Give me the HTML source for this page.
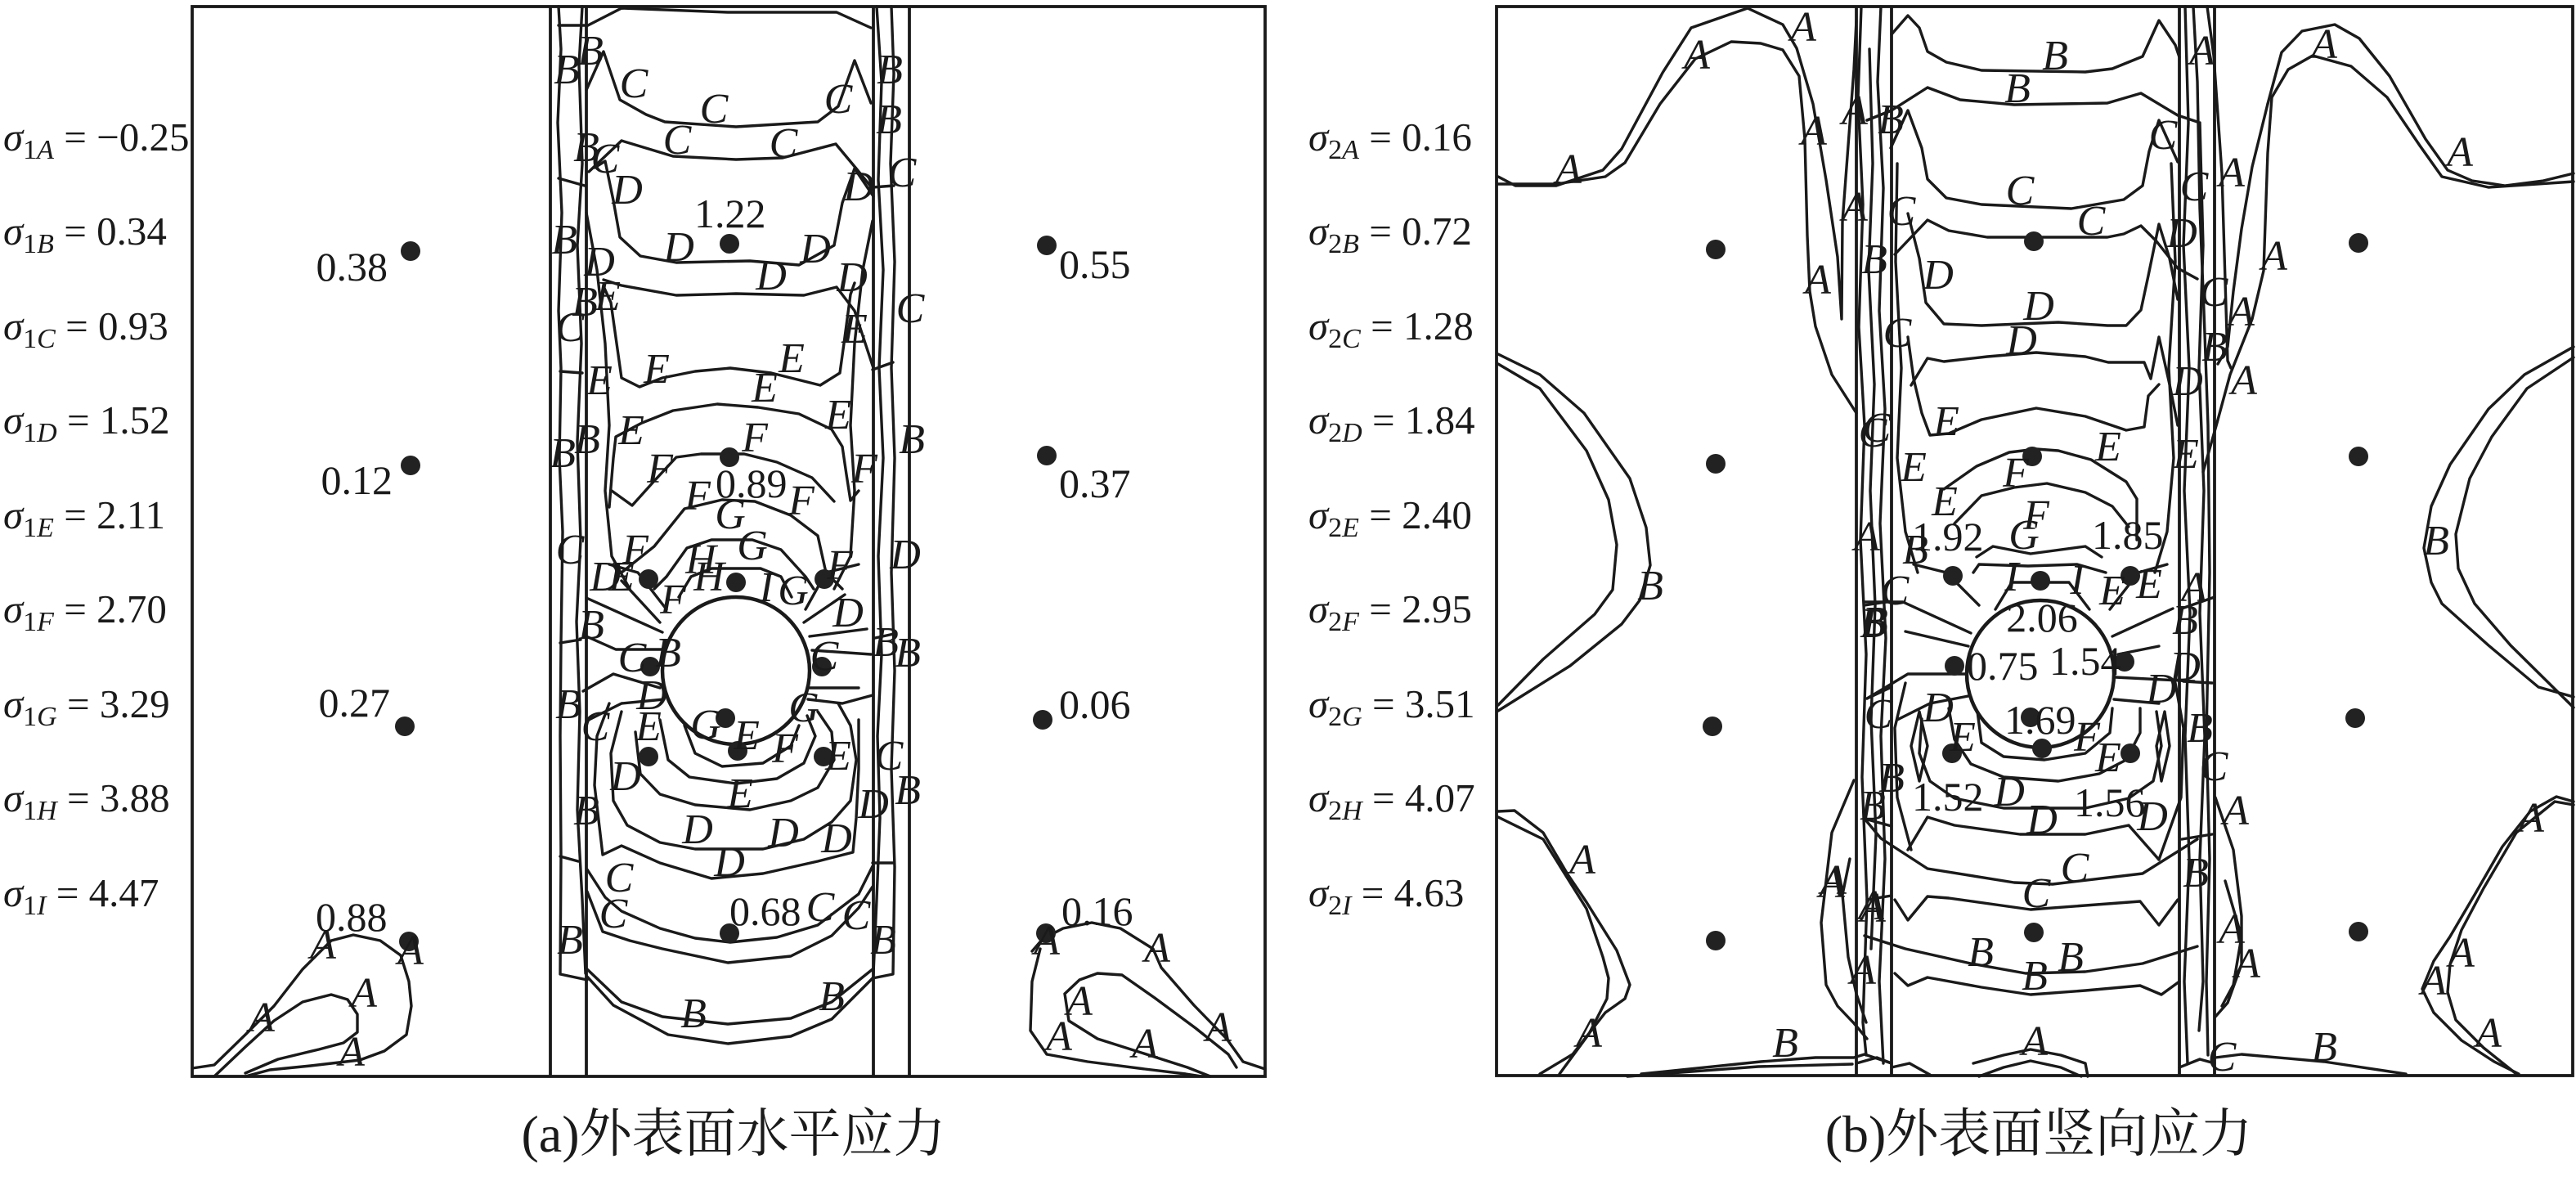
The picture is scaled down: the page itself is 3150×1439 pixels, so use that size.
<!DOCTYPE html>
<html><head><meta charset="utf-8"><style>
html,body{margin:0;padding:0;background:#fff;}
svg{display:block;}
.f{fill:none;stroke:#1a1a1a;stroke-width:3.4;stroke-linejoin:round;stroke-linecap:round;}
.t{stroke:#1a1a1a;stroke-width:3.8;fill:none;}
.L{font-family:"Liberation Serif",serif;font-style:italic;font-size:52px;fill:#1a1a1a;text-anchor:middle;}
.N{font-family:"Liberation Serif",serif;font-size:50px;fill:#1a1a1a;}
.S{font-family:"Liberation Serif",serif;font-size:49px;fill:#1a1a1a;}
.C{font-family:"Liberation Serif","Noto Serif CJK SC","Noto Sans CJK SC",serif;font-size:64px;fill:#1a1a1a;text-anchor:middle;}
.d{fill:#222;}
</style></head><body>
<svg width="3150" height="1439" viewBox="0 0 3150 1439" xmlns="http://www.w3.org/2000/svg">
<rect x="0" y="0" width="3150" height="1439" fill="#fff"/>

<!-- ===== Panel (a) ===== -->
<rect x="235" y="8" width="1312" height="1308" class="t" stroke-width="4"/>
<g class="t"><line x1="673" y1="8" x2="673" y2="1316"/><line x1="717" y1="8" x2="717" y2="1316"/><line x1="1068" y1="8" x2="1068" y2="1316"/><line x1="1112" y1="8" x2="1112" y2="1316"/></g>
<g class="f">
<path d="M683 8 L686 60 L682 150 L687 260 L683 380 L686 450 L684 560 L688 650 L686 786 L685 900 L686 1047 L685 1191 L718 1198"/>
<path d="M712 8 L708 80 L712 200 L706 300 L711 420 L706 540 L710 660 L705 760 L709 870 L706 990 L712 1100 L716 1190"/>
<path d="M1072 8 L1078 100 L1074 220 L1080 330 L1075 450 L1080 560 L1074 680 L1078 800 L1073 900 L1076 1000 L1072 1100 L1068 1190"/>
<path d="M1090 8 L1093 90 L1089 200 L1094 320 L1090 450 L1094 560 L1090 700 L1094 820 L1090 940 L1094 1060 L1092 1191 L1067 1196"/>
<path d="M683 31 L717 31 M683 218 L715 227 M685 454 L712 456 M1067 452 L1092 443 M1067 229 L1093 227 M685 786 L710 782 M685 1047 L707 1053 M1067 1055 L1093 1055 M1070 780 L1093 775"/>
<path d="M717 32 L760 10 L890 15 L1023 15 L1065 34"/>
<path d="M717 110 L738 63 L758 122 L790 140 L813 149 L900 155 L1000 149 L1025 130 L1045 74 L1065 126"/>
<path d="M720 210 L760 172 L823 191 L900 195 L957 193 L1022 176 L1047 206 L1068 232"/>
<path d="M727 205 L740 197 L750 245 L758 290 L783 313 L827 321 L917 319 L977 324 L1020 300 L1030 248 L1045 206 L1068 240"/>
<path d="M738 342 L760 349 L827 361 L900 359 L983 361 L1023 351 L1045 380 L1068 450"/>
<path d="M738 350 L747 370 L760 462 L782 473 L810 462 L850 454 L893 450 L943 456 L1003 471 L1027 456 L1032 420 L1040 360 L1045 346"/>
<path d="M745 620 L750 560 L753 534 L785 517 L823 502 L877 494 L927 498 L977 506 L1017 525 L1030 546 L1035 580 L1040 612 L1050 600"/>
<path d="M748 600 L773 618 L800 588 L827 559 L857 555 L910 555 L950 565 L993 584 L1020 613"/>
<path d="M717 260 L730 330 L740 420 L745 520 L740 600 L748 680 L770 720"/>
<path d="M1067 270 L1055 330 L1045 420 L1040 520 L1045 600 L1040 680 L1020 720"/>
<path d="M760 700 L800 668 L837 622 L883 611 L923 613 L967 630 L1000 655 L1010 700 L1030 720"/>
<path d="M800 720 L815 705 L840 670 L870 660 L920 660 L955 672 L985 705 L995 720"/>
<path d="M830 730 L845 705 L870 695 L930 695 L955 705 L968 730"/>
<path d="M810 773 L717 731 M807 761 L760 710 M810 794 L753 794 L717 778 M807 841 L750 824 L713 845 M812 855 L760 860 L720 880 M815 745 L780 700 L745 690"/>
<path d="M983 761 L1033 727 M990 778 L1060 769 M990 841 L1050 841 M988 855 L1030 860 L1067 850 M985 745 L1010 700 L1050 690 M993 795 L1065 800"/>
<path d="M837 887 L850 921 L883 937 L933 933 L967 912 L977 887"/>
<path d="M807 880 L817 929 L843 950 L900 958 L950 952 L983 933 L997 900 L987 875"/>
<path d="M777 895 L783 946 L807 971 L850 984 L917 990 L967 979 L1000 963 L1020 929 L1017 895 L1000 870"/>
<path d="M760 870 L747 921 L750 979 L767 1009 L807 1030 L850 1038 L933 1038 L983 1026 L1017 1005 L1040 979 L1047 929 L1040 887 L1025 860"/>
<path d="M745 860 L730 900 L727 960 L737 1045 L760 1034 L807 1055 L870 1074 L933 1068 L1000 1053 L1043 1042 L1047 1000 L1050 940 L1050 880"/>
<path d="M718 1063 L740 1097 L760 1114 L807 1135 L850 1147 L893 1152 L950 1146 L1000 1131 L1050 1093 L1067 1059"/>
<path d="M718 1090 L737 1139 L770 1150 L810 1160 L890 1177 L967 1169 L1017 1144 L1050 1110 L1067 1084"/>
<path d="M718 1185 L760 1225 L810 1243 L890 1252 L967 1245 L1017 1225 L1067 1185"/>
<path d="M718 1194 L750 1229 L817 1265 L890 1276 L967 1267 L1017 1246 L1067 1196"/>
<path d="M235 1306 L262 1302 L300 1265 L335 1230 L370 1185 L405 1150 L432 1143 L465 1150 L490 1168 L500 1200 L503 1230 L497 1265 L470 1285 L440 1296 L380 1303 L330 1308 L300 1316"/>
<path d="M262 1316 L300 1280 L335 1248 L370 1225 L405 1216 L425 1222 L437 1240 L437 1262 L420 1275 L390 1283 L340 1295 L300 1312"/>
<path d="M1262 1163 L1275 1148 L1300 1135 L1335 1128 L1370 1135 L1410 1160 L1420 1183 L1460 1229 L1500 1270 L1520 1298 L1547 1307"/>
<path d="M1272 1160 L1262 1200 L1260 1260 L1280 1289 L1330 1298 L1400 1307 L1450 1313 L1470 1316"/>
<path d="M1302 1215 L1320 1198 L1342 1190 L1372 1192 L1412 1220 L1462 1257 L1502 1289 L1512 1305 M1302 1215 L1307 1248 L1342 1270 L1402 1289 L1452 1305 L1480 1316"/>
</g>
<circle cx="900" cy="820" r="90" fill="#fff" stroke="#1a1a1a" stroke-width="4.5"/>
<g class="d">
<circle cx="502" cy="307" r="12"/><circle cx="502" cy="569" r="12"/><circle cx="495" cy="888" r="12"/><circle cx="500" cy="1151" r="12"/>
<circle cx="1280" cy="300" r="12"/><circle cx="1280" cy="557" r="12"/><circle cx="1275" cy="880" r="12"/><circle cx="1279" cy="1141" r="12"/>
<circle cx="892" cy="298" r="12"/><circle cx="892" cy="559" r="12"/><circle cx="892" cy="1141" r="12"/>
<circle cx="793" cy="708" r="12"/><circle cx="900" cy="712" r="12"/><circle cx="1008" cy="708" r="12"/><circle cx="795" cy="815" r="12"/><circle cx="1005" cy="815" r="12"/><circle cx="887" cy="878" r="12"/><circle cx="902" cy="918" r="12"/><circle cx="793" cy="925" r="12"/><circle cx="1007" cy="925" r="12"/>
</g>
<g class="L">
<text x="693" y="102">B</text><text x="722" y="79">B</text><text x="775" y="119">C</text><text x="873" y="150">C</text><text x="1025" y="138">C</text><text x="1088" y="102">B</text><text x="1087" y="163">B</text><text x="828" y="188">C</text><text x="958" y="192">C</text><text x="717" y="197">B</text><text x="740" y="211">C</text><text x="767" y="249">D</text><text x="1050" y="245">D</text><text x="1103" y="228">C</text><text x="690" y="310">B</text><text x="830" y="319">D</text><text x="997" y="321">D</text><text x="733" y="337">D</text><text x="943" y="354">D</text><text x="1042" y="356">D</text><text x="715" y="386">B</text><text x="743" y="379">E</text><text x="697" y="417">C</text><text x="1045" y="419">E</text><text x="1113" y="394">C</text><text x="803" y="468">E</text><text x="968" y="455">E</text><text x="733" y="482">E</text><text x="935" y="491">E</text><text x="1025" y="524">E</text><text x="772" y="543">E</text><text x="688" y="571">B</text><text x="718" y="554">B</text><text x="923" y="552">F</text><text x="807" y="590">F</text><text x="1057" y="590">F</text><text x="1115" y="554">B</text><text x="853" y="623">F</text><text x="980" y="629">F</text><text x="893" y="646">G</text>
<text x="697" y="689">C</text><text x="1107" y="695">D</text><text x="777" y="689">F</text><text x="857" y="701">H</text><text x="920" y="684">G</text><text x="740" y="722">D</text><text x="760" y="722">E</text><text x="1027" y="708">F</text><text x="867" y="722">H</text><text x="937" y="735">I</text><text x="970" y="739">G</text><text x="823" y="750">F</text><text x="1037" y="766">D</text><text x="723" y="781">B</text><text x="773" y="821">C</text><text x="817" y="815">B</text><text x="1008" y="819">C</text><text x="1083" y="802">B</text><text x="1110" y="815">B</text><text x="695" y="878">B</text><text x="797" y="867">D</text><text x="728" y="905">C</text><text x="793" y="905">E</text><text x="863" y="903">G</text><text x="913" y="916">E</text><text x="983" y="882">G</text><text x="960" y="932">F</text><text x="1025" y="941">E</text><text x="765" y="966">D</text><text x="1087" y="941">C</text><text x="905" y="987">E</text><text x="1110" y="983">B</text><text x="1068" y="1000">D</text><text x="717" y="1008">B</text><text x="853" y="1031">D</text><text x="958" y="1035">D</text><text x="1023" y="1042">D</text><text x="892" y="1071">D</text><text x="757" y="1090">C</text><text x="750" y="1134">C</text><text x="1003" y="1126">C</text><text x="1047" y="1136">C</text><text x="697" y="1166">B</text><text x="1080" y="1166">B</text><text x="848" y="1256">B</text><text x="1017" y="1235">B</text>
<text x="395" y="1172">A</text><text x="502" y="1179">A</text><text x="445" y="1231">A</text><text x="320" y="1261">A</text><text x="430" y="1303">A</text><text x="1280" y="1167">A</text><text x="1415" y="1176">A</text><text x="1320" y="1241">A</text><text x="1490" y="1273">A</text><text x="1295" y="1284">A</text><text x="1400" y="1293">A</text>
</g>
<g class="N">
<text x="474" y="343" text-anchor="end">0.38</text><text x="480" y="604" text-anchor="end">0.12</text><text x="477" y="876" text-anchor="end">0.27</text><text x="386" y="1138">0.88</text>
<text x="1295" y="340">0.55</text><text x="1295" y="608">0.37</text><text x="1295" y="878">0.06</text><text x="1298" y="1131">0.16</text>
<text x="849" y="278">1.22</text><text x="875" y="608">0.89</text><text x="892" y="1131">0.68</text>
</g>
<g class="S">
<text x="4" y="184"><tspan font-style="italic">σ</tspan><tspan font-size="34" dy="10">1</tspan><tspan font-size="34" font-style="italic">A</tspan><tspan dy="-10"> = −0.25</tspan></text>
<text x="4" y="299"><tspan font-style="italic">σ</tspan><tspan font-size="34" dy="10">1</tspan><tspan font-size="34" font-style="italic">B</tspan><tspan dy="-10"> = 0.34</tspan></text>
<text x="4" y="415"><tspan font-style="italic">σ</tspan><tspan font-size="34" dy="10">1</tspan><tspan font-size="34" font-style="italic">C</tspan><tspan dy="-10"> = 0.93</tspan></text>
<text x="4" y="530"><tspan font-style="italic">σ</tspan><tspan font-size="34" dy="10">1</tspan><tspan font-size="34" font-style="italic">D</tspan><tspan dy="-10"> = 1.52</tspan></text>
<text x="4" y="646"><tspan font-style="italic">σ</tspan><tspan font-size="34" dy="10">1</tspan><tspan font-size="34" font-style="italic">E</tspan><tspan dy="-10"> = 2.11</tspan></text>
<text x="4" y="761"><tspan font-style="italic">σ</tspan><tspan font-size="34" dy="10">1</tspan><tspan font-size="34" font-style="italic">F</tspan><tspan dy="-10"> = 2.70</tspan></text>
<text x="4" y="877"><tspan font-style="italic">σ</tspan><tspan font-size="34" dy="10">1</tspan><tspan font-size="34" font-style="italic">G</tspan><tspan dy="-10"> = 3.29</tspan></text>
<text x="4" y="992"><tspan font-style="italic">σ</tspan><tspan font-size="34" dy="10">1</tspan><tspan font-size="34" font-style="italic">H</tspan><tspan dy="-10"> = 3.88</tspan></text>
<text x="4" y="1108"><tspan font-style="italic">σ</tspan><tspan font-size="34" dy="10">1</tspan><tspan font-size="34" font-style="italic">I</tspan><tspan dy="-10"> = 4.47</tspan></text>
</g>
<text class="C" x="897" y="1408">(a)外表面水平应力</text>

<!-- ===== Panel (b) ===== -->
<rect x="1830" y="8" width="1316" height="1307" class="t" stroke-width="4"/>
<g class="t"><line x1="2270" y1="8" x2="2270" y2="1315"/><line x1="2313" y1="8" x2="2313" y2="1315"/><line x1="2665" y1="8" x2="2665" y2="1315"/><line x1="2708" y1="8" x2="2708" y2="1315"/></g>
<g class="f">
<path d="M1832 216 L1853 227 L1903 227 L1960 208 L1983 182 L2033 89 L2068 34 L2137 10 L2180 30 L2197 59 L2217 127 L2233 220 L2247 314 L2252 390 L2253 271 L2267 85 L2270 25"/>
<path d="M1832 225 L1903 225 L1963 216 L1987 199 L2030 127 L2073 72 L2117 51 L2153 53 L2180 61 L2200 93 L2207 170 L2210 288 L2213 356 L2220 399 L2240 458 L2270 505"/>
<path d="M1832 433 L1883 458 L1937 505 L1993 585 L2013 645 L2018 691 L2005 734 L1983 763 L1920 814 L1832 869"/>
<path d="M1832 445 L1883 475 L1940 551 L1967 611 L1977 666 L1972 721 L1950 751 L1887 806 L1832 862"/>
<path d="M1832 992 L1852 991 L1887 1018 L1917 1069 L1940 1103 L1977 1162 L1993 1204 L1987 1221 L1963 1238 L1923 1289 L1883 1313"/>
<path d="M1832 999 L1887 1026 L1940 1111 L1960 1170 L1967 1196 L1965 1221 L1943 1264 L1907 1313"/>
<path d="M2007 1313 L2153 1298 L2220 1293 L2267 1293 L2280 1289 L2313 1300 M1990 1316 L2150 1304 L2265 1301"/>
<path d="M2267 954 L2240 1018 L2227 1128 L2233 1204 L2247 1230 L2267 1251 L2283 1270 M2262 1050 L2253 1094 L2260 1170 L2270 1215 L2282 1250"/>
<path d="M2276 8 L2272 120 L2278 250 L2273 400 L2280 520 L2275 660 L2282 800 L2277 950 L2283 1100 L2278 1250 L2282 1290"/>
<path d="M2300 8 L2296 100 L2303 230 L2298 380 L2305 500 L2299 640 L2306 780 L2300 900 L2305 1050 L2298 1200 L2303 1300"/>
<path d="M2286 60 L2290 200 L2285 330 L2292 470 L2287 600 L2293 740 L2288 880 L2294 1020 L2288 1160"/>
<path d="M2280 740 L2313 735 M2283 854 L2313 840 M2280 1001 L2313 1010 M2283 1100 L2313 1095 M2283 147 L2313 135"/>
<path d="M2773 127 L2790 64 L2815 38 L2855 30 L2885 47 L2922 93 L2966 170 L2993 208 L3023 221 L3063 227 L3110 221 L3147 212"/>
<path d="M2778 119 L2798 85 L2828 68 L2875 81 L2919 119 L2959 178 L2986 216 L3043 229 L3147 222"/>
<path d="M2773 127 L2754 204 L2741 280 L2731 356 L2724 424 L2712 445"/>
<path d="M2778 119 L2773 187 L2768 331 L2754 390 L2727 458 L2711 517 L2694 577"/>
<path d="M3147 424 L3087 458 L3043 500 L2996 568 L2973 619 L2964 670 L2973 712 L2986 738 L3043 789 L3104 840 L3147 852"/>
<path d="M3147 437 L3090 475 L3047 534 L3020 585 L3003 653 L3006 695 L3026 738 L3070 789 L3147 865"/>
<path d="M3147 980 L3126 974 L3094 992 L3060 1035 L3026 1094 L2996 1145 L2976 1175 L2962 1209 L2976 1238 L3010 1272 L3050 1298 L3080 1313"/>
<path d="M3147 984 L3124 980 L3077 1018 L3037 1086 L3010 1137 L2996 1179 L2993 1213 L3003 1247 L3037 1281 L3077 1313"/>
<path d="M2709 1293 L2741 1289 L2842 1298 L2942 1313 M2665 1305 L2690 1295 L2708 1300"/>
<path d="M2709 975 L2731 1039 L2741 1120 L2741 1179 L2724 1226 L2709 1243 M2721 1077 L2741 1145 L2731 1204 L2717 1230"/>
<path d="M2682 8 L2687 100 L2690 255 L2695 380 L2700 520 L2702 700 L2698 900 L2702 1050 L2698 1200 L2700 1290"/>
<path d="M2699 8 L2707 68 L2717 212 L2724 441 L2728 450"/>
<path d="M2672 8 L2676 150 L2670 300 L2677 450 L2671 600 L2678 750 L2672 900 L2677 1050 L2671 1200 L2675 1300"/>
<path d="M2690 150 L2694 300 L2689 450 L2695 600 L2690 750 L2696 900 L2690 1050 L2694 1200 L2689 1260"/>
<path d="M2665 745 L2708 730 M2670 833 L2705 835 M2668 1026 L2705 1020"/>
<path d="M2313 42 L2333 19 L2347 34 L2357 63 L2380 76 L2423 86 L2550 88 L2583 84 L2620 69 L2640 25 L2660 55 L2665 70"/>
<path d="M2283 147 L2313 135 L2357 107 L2397 122 L2463 128 L2577 126 L2618 114 L2663 141 L2687 149"/>
<path d="M2312 181 L2333 135 L2350 181 L2357 219 L2380 242 L2423 250 L2533 255 L2597 244 L2620 227 L2628 185 L2640 147 L2663 198"/>
<path d="M2317 311 L2357 269 L2383 282 L2430 290 L2577 290 L2597 286 L2618 276 L2637 295 L2663 328 L2687 341"/>
<path d="M2333 261 L2347 316 L2355 370 L2377 396 L2423 398 L2517 394 L2577 398 L2600 398 L2618 379 L2627 337 L2640 274 L2653 316 L2663 366"/>
<path d="M2337 471 L2357 438 L2377 442 L2430 436 L2490 431 L2550 436 L2578 443 L2622 443 L2630 463 L2640 412 L2653 470 L2663 520"/>
<path d="M2333 412 L2340 463 L2350 505 L2360 532 L2383 530 L2423 513 L2490 499 L2550 509 L2600 526 L2622 522 L2627 484 L2640 470"/>
<path d="M2377 598 L2417 570 L2457 553 L2490 549 L2517 551 L2557 562 L2600 589 L2613 610 L2613 660"/>
<path d="M2390 640 L2423 606 L2463 596 L2503 591 L2550 602 L2583 619 L2603 644"/>
<path d="M2320 200 L2318 320 L2325 450 L2320 560 L2330 650 L2345 700"/>
<path d="M2655 200 L2660 320 L2652 450 L2658 560 L2650 650 L2635 700"/>
<path d="M2417 681 L2437 668 L2483 677 L2550 668 L2570 681 M2413 700 L2420 690 L2480 692 L2540 690 L2575 700 M2440 745 L2460 712 L2530 712 L2555 745"/>
<path d="M2410 774 L2327 736 L2280 736 M2407 790 L2330 772 M2407 824 L2333 824 L2283 854 M2412 850 L2360 860 L2320 880 M2420 740 L2380 700 L2340 690"/>
<path d="M2583 778 L2657 744 M2587 828 L2683 833 M2590 800 L2640 790 M2580 745 L2615 700 L2650 690 M2585 855 L2640 860"/>
<path d="M2417 862 L2423 908 L2450 925 L2500 929 L2550 921 L2580 896 L2583 866"/>
<path d="M2383 866 L2390 904 L2410 934 L2450 950 L2517 955 L2567 946 L2600 929 L2617 896 L2617 866"/>
<path d="M2350 879 L2347 921 L2360 955 L2390 976 L2450 988 L2550 988 L2603 976 L2633 955 L2643 912 L2637 870"/>
<path d="M2333 1039 L2357 999 L2390 1009 L2470 1020 L2550 1020 L2603 1009 L2640 1051"/>
<path d="M2347 870 L2357 912 L2347 955 L2337 912 Z M2647 870 L2653 912 L2643 955 L2637 912 Z"/>
<path d="M2330 835 L2317 890 L2320 975 L2337 1039 M2660 835 L2670 890 L2667 975 L2640 1051"/>
<path d="M2280 1001 L2300 1025 L2357 1062 L2463 1079 L2510 1081 L2620 1068 L2687 1026"/>
<path d="M2317 1100 L2333 1125 L2357 1096 L2383 1098 L2483 1112 L2617 1102 L2640 1131 L2663 1100"/>
<path d="M2280 1144 L2330 1160 L2410 1178 L2477 1190 L2550 1188 L2620 1178 L2687 1157"/>
<path d="M2317 1190 L2333 1205 L2357 1195 L2423 1207 L2483 1216 L2550 1211 L2617 1205 L2643 1216 L2665 1200"/>
<path d="M2413 1300 L2450 1290 L2483 1283 L2520 1290 L2550 1300 L2553 1316 M2420 1316 L2450 1305 L2483 1297 L2520 1305 L2545 1316"/>
<path d="M2270 1300 L2295 1293 L2313 1300 M2313 1305 L2335 1300 L2360 1314"/>
</g>
<circle cx="2495" cy="824" r="90" fill="#fff" stroke="#1a1a1a" stroke-width="4.5"/>
<g class="d">
<circle cx="2098" cy="305" r="12"/><circle cx="2098" cy="567" r="12"/><circle cx="2094" cy="888" r="12"/><circle cx="2098" cy="1150" r="12"/>
<circle cx="2884" cy="297" r="12"/><circle cx="2884" cy="558" r="12"/><circle cx="2880" cy="878" r="12"/><circle cx="2884" cy="1139" r="12"/>
<circle cx="2487" cy="295" r="12"/><circle cx="2485" cy="558" r="12"/><circle cx="2487" cy="1140" r="12"/>
<circle cx="2388" cy="704" r="12"/><circle cx="2495" cy="710" r="12"/><circle cx="2605" cy="704" r="12"/><circle cx="2390" cy="814" r="12"/><circle cx="2598" cy="809" r="12"/><circle cx="2483" cy="877" r="12"/><circle cx="2497" cy="915" r="12"/><circle cx="2387" cy="921" r="12"/><circle cx="2605" cy="921" r="12"/>
</g>
<g class="L">
<text x="2205" y="50">A</text><text x="2075" y="84">A</text><text x="2218" y="177">A</text><text x="1918" y="224">A</text><text x="2223" y="359">A</text><text x="2018" y="733">B</text><text x="1935" y="1068">A</text><text x="1943" y="1280">A</text><text x="2242" y="1093">A</text><text x="2183" y="1292">B</text>
<text x="2268" y="152">A</text><text x="2268" y="270">A</text><text x="2292" y="334">B</text><text x="2290" y="546">C</text><text x="2283" y="673">A</text><text x="2290" y="779">B</text><text x="2297" y="890">C</text><text x="2240" y="1097">A</text><text x="2290" y="1127">A</text><text x="2278" y="1203">A</text>
<text x="2513" y="85">B</text><text x="2467" y="125">B</text><text x="2693" y="79">A</text><text x="2312" y="163">B</text><text x="2645" y="182">C</text><text x="2470" y="250">C</text><text x="2683" y="245">C</text><text x="2325" y="275">C</text><text x="2557" y="287">C</text><text x="2668" y="302">D</text><text x="2370" y="353">D</text><text x="2493" y="391">D</text><text x="2707" y="374">C</text><text x="2472" y="433">D</text><text x="2320" y="424">C</text><text x="2708" y="441">B</text><text x="2675" y="483">D</text><text x="2295" y="540">C</text><text x="2380" y="532">E</text><text x="2578" y="563">E</text><text x="2340" y="588">E</text><text x="2673" y="572">E</text><text x="2465" y="595">F</text><text x="2378" y="630">E</text><text x="2490" y="647">F</text><text x="2475" y="671">G</text>
<text x="2342" y="689">B</text><text x="2628" y="731">E</text><text x="2583" y="739">E</text><text x="2460" y="722">I</text><text x="2540" y="726">I</text><text x="2317" y="739">C</text><text x="2683" y="735">A</text><text x="2293" y="777">B</text><text x="2672" y="775">B</text><text x="2672" y="832">D</text><text x="2643" y="859">D</text><text x="2370" y="882">D</text><text x="2400" y="918">E</text><text x="2552" y="918">F</text><text x="2578" y="943">E</text><text x="2690" y="907">B</text><text x="2707" y="954">C</text><text x="2313" y="968">B</text><text x="2290" y="1002">B</text><text x="2457" y="985">D</text><text x="2497" y="1019">D</text><text x="2632" y="1015">D</text><text x="2537" y="1078">C</text><text x="2490" y="1109">C</text><text x="2685" y="1084">B</text><text x="2288" y="1124">A</text><text x="2422" y="1181">B</text><text x="2532" y="1187">B</text><text x="2488" y="1210">B</text><text x="2488" y="1290">A</text>
<text x="2729" y="228">A</text><text x="2781" y="330">A</text><text x="2741" y="398">A</text><text x="2744" y="482">A</text><text x="2734" y="1008">A</text><text x="2729" y="1153">A</text><text x="2748" y="1195">A</text><text x="2717" y="1309">C</text><text x="2842" y="1297">B</text><text x="2842" y="71">A</text><text x="3008" y="203">A</text><text x="2979" y="678">B</text><text x="3095" y="1017">A</text><text x="3010" y="1182">A</text><text x="2976" y="1216">A</text><text x="3043" y="1280">A</text>
</g>
<g class="N">
<text x="2338" y="673">1.92</text><text x="2558" y="671">1.85</text><text x="2497" y="772" text-anchor="middle">2.06</text><text x="2405" y="831">0.75</text><text x="2506" y="825">1.54</text><text x="2451" y="897">1.69</text><text x="2338" y="991">1.52</text><text x="2536" y="998">1.56</text>
</g>
<g class="S">
<text x="1600" y="184"><tspan font-style="italic">σ</tspan><tspan font-size="34" dy="10">2</tspan><tspan font-size="34" font-style="italic">A</tspan><tspan dy="-10"> = 0.16</tspan></text>
<text x="1600" y="299"><tspan font-style="italic">σ</tspan><tspan font-size="34" dy="10">2</tspan><tspan font-size="34" font-style="italic">B</tspan><tspan dy="-10"> = 0.72</tspan></text>
<text x="1600" y="415"><tspan font-style="italic">σ</tspan><tspan font-size="34" dy="10">2</tspan><tspan font-size="34" font-style="italic">C</tspan><tspan dy="-10"> = 1.28</tspan></text>
<text x="1600" y="530"><tspan font-style="italic">σ</tspan><tspan font-size="34" dy="10">2</tspan><tspan font-size="34" font-style="italic">D</tspan><tspan dy="-10"> = 1.84</tspan></text>
<text x="1600" y="646"><tspan font-style="italic">σ</tspan><tspan font-size="34" dy="10">2</tspan><tspan font-size="34" font-style="italic">E</tspan><tspan dy="-10"> = 2.40</tspan></text>
<text x="1600" y="761"><tspan font-style="italic">σ</tspan><tspan font-size="34" dy="10">2</tspan><tspan font-size="34" font-style="italic">F</tspan><tspan dy="-10"> = 2.95</tspan></text>
<text x="1600" y="877"><tspan font-style="italic">σ</tspan><tspan font-size="34" dy="10">2</tspan><tspan font-size="34" font-style="italic">G</tspan><tspan dy="-10"> = 3.51</tspan></text>
<text x="1600" y="992"><tspan font-style="italic">σ</tspan><tspan font-size="34" dy="10">2</tspan><tspan font-size="34" font-style="italic">H</tspan><tspan dy="-10"> = 4.07</tspan></text>
<text x="1600" y="1108"><tspan font-style="italic">σ</tspan><tspan font-size="34" dy="10">2</tspan><tspan font-size="34" font-style="italic">I</tspan><tspan dy="-10"> = 4.63</tspan></text>
</g>
<text class="C" x="2493" y="1408">(b)外表面竖向应力</text>
</svg>
</body></html>
